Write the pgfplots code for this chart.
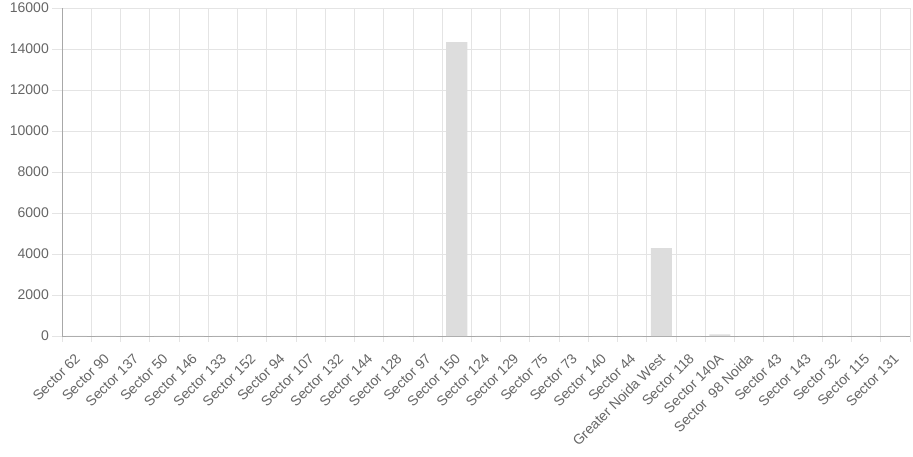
\documentclass[border=0pt]{standalone}
\usepackage{pgfplots}
\pgfplotsset{compat=1.18}
\usepackage{fontspec}
\setmainfont{Liberation Sans}
\definecolor{txt}{HTML}{666666}
\definecolor{gridc}{HTML}{E4E4E4}
\definecolor{axc}{HTML}{A8A8A8}
\definecolor{barc}{HTML}{DDDDDD}
\begin{document}
\begin{tikzpicture}
\begin{axis}[
    at={(62pt,120pt)}, anchor=south west,
    scale only axis, width=848pt, height=328pt,
    xmin=-0.5, xmax=28.5, ymin=0, ymax=16000,
    axis x line=bottom, axis y line=left,
    axis line style={-, draw=axc},
    xtick={0,...,28},
    xticklabels={Sector 62,Sector 90,Sector 137,Sector 50,Sector 146,Sector 133,Sector 152,Sector 94,Sector 107,Sector 132,Sector 144,Sector 128,Sector 97,Sector 150,Sector 124,Sector 129,Sector 75,Sector 73,Sector 140,Sector 44,Greater Noida West,Sector 118,Sector 140A,Sector\ \ 98 Noida,Sector 43,Sector 143,Sector 32,Sector 115,Sector 131},
    minor xtick={-0.5,0.5,...,28.5},
    ytick={0,2000,...,16000},
    xmajorgrids=false, xminorgrids=true, ymajorgrids=true,
    grid style={draw=gridc, line width=0.8pt},
    minor grid style={draw=gridc, line width=0.8pt},
    tick align=outside,
    major tick length=10pt, minor tick length=6pt,
    tick style={draw=gridc, line width=0.8pt},
    major x tick style={draw=none},
    scaled y ticks=false,
    /pgf/number format/assume math mode=true,
    /pgf/number format/1000 sep={},
    ticklabel style={font=\fontsize{14}{16}\selectfont, text=txt},
    xticklabel style={yshift=-10pt, xshift=1pt, rotate=45, anchor=east, inner sep=0pt},
    yticklabel style={inner sep=0pt, xshift=-3pt},
    ybar, bar width=0.72,
]
\addplot[fill=barc, draw=none] coordinates {
(0,2) (1,3) (2,2) (3,4) (4,2) (5,3) (6,2) (7,3) (8,2) (9,3)
(10,2) (11,3) (12,2) (13,14340) (14,3) (15,2) (16,3) (17,2) (18,3) (19,2)
(20,4290) (21,3) (22,80) (23,4) (24,2) (25,3) (26,2) (27,3) (28,2)
};
\end{axis}
\pgfresetboundingbox
\path[use as bounding box] (0,0) rectangle (913pt,456pt);
\end{tikzpicture}
\end{document}
